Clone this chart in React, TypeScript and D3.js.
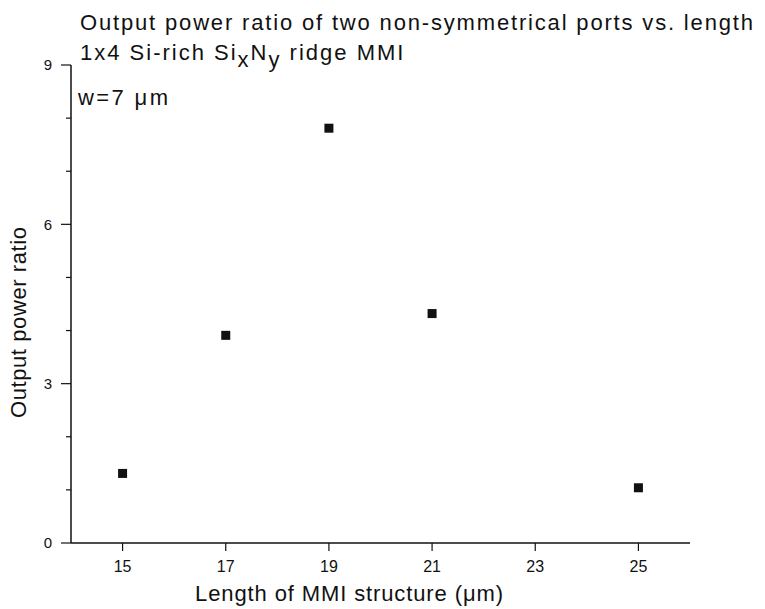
import * as d3 from 'd3'

// MMI length (µm) and measured output power ratio
const lengths = [15, 17, 19, 21, 25]
const ratios = [1.31, 3.91, 7.81, 4.32, 1.04]
const xTicks = [15, 17, 19, 21, 23, 25]
const yMajor = [0, 3, 6, 9]
const yMinor = [1, 2, 4, 5, 7, 8]

const W = 765
const H = 609
const FONT = 'Liberation Sans, Arial, sans-serif'
const INK = '#111'

export default function App() {
  const x = d3.scaleLinear().domain([14, 26]).range([71, 690])
  const y = d3.scaleLinear().domain([0, 9]).range([543, 65])
  const x0 = x(14)
  const y0 = y(0)

  return (
    <svg
      width={W}
      height={H}
      style={{ position: 'absolute', left: 0, top: 0, background: '#fff' }}
      fontFamily={FONT}
    >
      {/* titles */}
      <text x={80} y={30} fontSize={22} fill={INK} textLength={673} lengthAdjust="spacing">
        Output power ratio of two non-symmetrical ports vs. length
      </text>
      <text x={80} y={60} fontSize={22} fill={INK} letterSpacing={2}>
        1x4 Si-rich Si<tspan dy={7}>x</tspan><tspan dy={-7}>N</tspan><tspan dy={7}>y</tspan>
        <tspan dy={-7}> ridge MMI</tspan>
      </text>
      <text x={78} y={105} fontSize={22} fill={INK} textLength={90} lengthAdjust="spacing">
        w=7 μm
      </text>

      {/* axes */}
      <line x1={x0} x2={x0} y1={y(9)} y2={y0} stroke={INK} strokeWidth={1.5} />
      <line x1={x0} x2={x(26)} y1={y0} y2={y0} stroke={INK} strokeWidth={1.5} />

      {yMajor.map(t => (
        <g key={'ym' + t}>
          <line x1={x0 - 10} x2={x0} y1={y(t)} y2={y(t)} stroke={INK} strokeWidth={1.2} />
          <text x={x0 - 19} y={y(t)} dy="0.35em" textAnchor="end" fontSize={15} fill={INK}>
            {t}
          </text>
        </g>
      ))}
      {yMinor.map(t => (
        <line key={'yn' + t} x1={x0 - 5} x2={x0} y1={y(t)} y2={y(t)} stroke={INK} strokeWidth={1.2} />
      ))}

      {xTicks.map(t => (
        <g key={'x' + t}>
          <line x1={x(t)} x2={x(t)} y1={y0} y2={y0 + 8} stroke={INK} strokeWidth={1.2} />
          <text x={x(t)} y={572} textAnchor="middle" fontSize={16} fill={INK}>
            {t}
          </text>
        </g>
      ))}

      {/* axis labels */}
      <text x={195} y={601} fontSize={22} fill={INK} textLength={308} lengthAdjust="spacing">
        Length of MMI structure (μm)
      </text>
      <text
        transform={`translate(26, 418) rotate(-90)`}
        fontSize={22}
        fill={INK}
        textLength={191}
        lengthAdjust="spacing"
      >
        Output power ratio
      </text>

      {/* data points */}
      {lengths.map((l, i) => (
        <rect
          key={l}
          x={x(l) - 4.5}
          y={y(ratios[i]) - 4.5}
          width={9}
          height={9}
          fill={INK}
        />
      ))}
    </svg>
  )
}
